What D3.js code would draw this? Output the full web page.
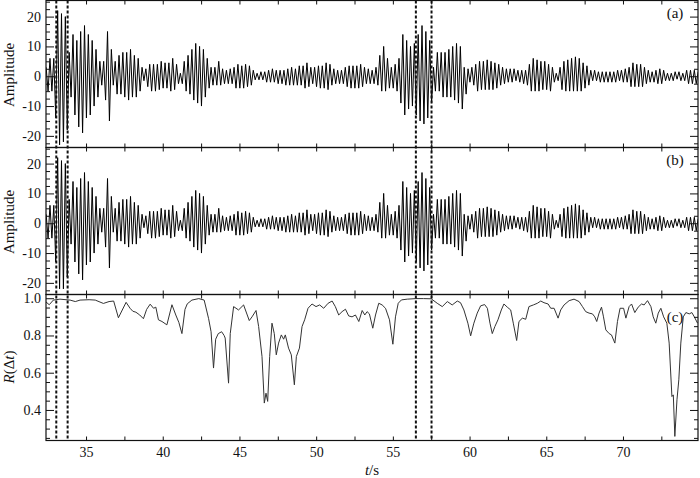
<!DOCTYPE html>
<html>
<head>
<meta charset="utf-8">
<script src="https://cdn.jsdelivr.net/npm/d3@7"></script>
<style>
  body { margin: 0; background: #fff; }
  svg text { font-family: 'Liberation Serif', Tinos, 'DejaVu Serif', serif; fill: #111; }
</style>
</head>
<body>
<svg></svg>
<script>
// waveform samples: one extreme per half cycle, starting at t0, spaced dt seconds
const t0 = 32.4;
const dt = 0.125;

const waveA = [
  3,-5,6,-5,6,-14,22,-23,
  21,-22,20,-18,8,-7,14,-13,
  12,-17,15,-19,17,-14,14,-13,
  12,-10,9,-7,5,-3,5,-8,
  15,-15,9,-3,5,-6,7,-6,
  8,-7,8,-8,9,-7,7,-7,
  6,-5,3,-1.5,2.5,-3.5,4,-5,
  4,-5,4,-4.5,5,-4,4.5,-4,
  4.5,-5,6,-4.5,4,-2.5,1,-2.5,
  5,-5,7,-6,9,-8,11,-9,
  10,-10,9,-7,6,-4,3,-3,
  3,-3,5,-3,2.5,-2.5,2,-2.5,
  2.5,-2.5,3,-4,4,-4,3.5,-4,
  4,-3.5,3.5,-3,2,-1.2,1,-1.2,
  1.5,-1.2,1.5,-2,2,-2,2.5,-2,
  2,-2.5,2,-2.5,2,-3,2.5,-3,
  3,-3,2.5,-3,3.5,-3,3.5,-4,
  4.5,-3.5,3,-2.5,3,-3.5,3.5,-4,
  3.5,-4,4.5,-4.5,4,-3,2.5,-2.5,
  2,-2.5,2,-2.5,3,-3.5,3.5,-4,
  3.5,-4,3.5,-4,4,-3.5,3,-2.5,
  2.5,-2.5,2,-2.5,3,-3,7,-5,
  10,-5,6,-4,3,-4,4,-5,
  6,-9,14,-13,12,-11,10,-10,
  11,-13,14,-15,17,-16,15,-14,
  12,-9,3,-5,8,-5,8,-7,
  8,-7,9,-7,10,-8,11,-9,
  10,-11,3,-6,2.5,-2,3,-3,
  4,-5,5,-4.5,5,-4.5,5.5,-4.5,
  5,-4.5,4.5,-4,4,-3,3,-2.5,
  2.5,-2,2.5,-2,2.5,-1.5,2,-2,
  2,-2.5,2,-3,4,-5,6,-5,
  5.5,-5,5,-4.5,5,-4.5,4,-5,
  3,-2,1,-1.5,3,-4.5,5,-5,
  5.5,-5,6,-5,6.5,-5,6,-5,
  4.5,-4,3.5,-3,2,-1.5,2,-1.5,
  1.5,-2,1.5,-2,1.5,-2,1.5,-2,
  1.5,-2,2,-1.5,2,-2,2.5,-2,
  3,-3.5,4.5,-3.5,4,-3.5,4,-3.5,
  3,-2.5,2,-2,1.5,-2,2,-2.5,
  2.5,-2.5,2,-1.5,1,-1.5,1,-1.5,
  1.5,-1,1.5,-1.5,1,-1.5,2,-2.5,
  2,-2.5,2,-2.5,1.5
];

const waveB = [
  3,-5,6,-5,6,-13,22,-22,
  21,-22,20,-18,8,-7,14,-13,
  12,-17,15,-19,17,-14,14,-13,
  12,-10,9,-7,5,-3,5,-8,
  15,-15,9,-3,5,-6,7,-6,
  8,-7,8,-8,9,-7,7,-7,
  6,-5,3,-1.5,2.5,-3.5,4,-5,
  4,-5,4,-4.5,5,-4,4.5,-4,
  4.5,-5,6,-4.5,4,-2.5,1,-2.5,
  5,-5,7,-6,9,-8,11,-9,
  10,-10,9,-7,6,-4,3,-3,
  3,-3,5,-3,2.5,-2.5,2,-2.5,
  2.5,-2.5,3,-4,4,-4,3.5,-4,
  4,-3.5,3.5,-3,2,-1.2,1,-1.2,
  1.5,-1.2,1.5,-2,2,-2,2.5,-2,
  2,-2.5,2,-2.5,2,-3,2.5,-3,
  3,-3,2.5,-3,3.5,-3,3.5,-4,
  4.5,-3.5,3,-2.5,3,-3.5,3.5,-4,
  3.5,-4,4.5,-4.5,4,-3,2.5,-2.5,
  2,-2.5,2,-2.5,3,-3.5,3.5,-4,
  3.5,-4,3.5,-4,4,-3.5,3,-2.5,
  2.5,-2.5,2,-2.5,3,-3,7,-5,
  10,-5,6,-4,3,-4,4,-5,
  6,-9,14,-13,12,-11,10,-10,
  11,-13,14,-15,17,-16,15,-14,
  12,-9,3,-5,8,-5,8,-7,
  8,-7,9,-7,10,-8,11,-9,
  10,-11,3,-6,2.5,-2,3,-3,
  4,-5,5,-4.5,5,-4.5,5.5,-4.5,
  5,-4.5,4.5,-4,4,-3,3,-2.5,
  2.5,-2,2.5,-2,2.5,-1.5,2,-2,
  2,-2.5,2,-3,4,-5,6,-5,
  5.5,-5,5,-4.5,5,-4.5,4,-5,
  3,-2,1,-1.5,3,-4.5,5,-5,
  5.5,-5,6,-5,6.5,-5,6,-5,
  4.5,-4,3.5,-3,2,-1.5,2,-1.5,
  1.5,-2,1.5,-2,1.5,-2,1.5,-2,
  1.5,-2,2,-1.5,2,-2,2.5,-2,
  3,-3.5,4.5,-3.5,4,-3.5,4,-3.5,
  3,-2.5,2,-2,1.5,-2,2,-2.5,
  2.5,-2.5,2,-1.5,1,-1.5,1,-1.5,
  1.5,-1,1.5,-1.5,1,-1.5,2,-2.5,
  2,-2.5,2,-2.5,1.5
];

// correlation coefficient R(dt)
const rTime = [
  32.39,32.6,32.87,33.3,33.96,34.3,34.61,35.2,35.6,36.13,
  36.5,36.8,37.11,37.61,37.87,38.05,38.25,38.5,38.74,38.95,
  39.18,39.4,39.55,39.72,39.95,40.27,40.6,40.85,41.05,41.25,
  41.45,41.6,41.9,42.35,42.7,42.99,43.15,43.31,43.45,43.62,
  43.84,44.0,44.07,44.29,44.4,44.62,44.94,45.27,45.64,45.82,
  46.08,46.25,46.47,46.62,46.73,46.84,46.97,47.12,47.27,47.4,
  47.55,47.73,47.88,47.99,48.2,48.38,48.58,48.71,48.91,49.08,
  49.25,49.47,49.73,49.99,50.23,50.49,50.78,51.04,51.25,51.47,
  51.69,51.91,52.12,52.34,52.56,52.78,53.0,53.17,53.32,53.47,
  53.69,53.87,54.08,54.3,54.52,54.78,55.0,55.17,55.35,55.56,
  55.94,56.5,57.0,57.5,57.89,58.22,58.55,58.87,59.2,59.41,
  59.63,59.89,60.07,60.28,60.5,60.72,60.98,61.16,61.33,61.48,
  61.65,61.85,62.07,62.24,62.46,62.68,62.85,63.07,63.22,63.44,
  63.66,63.87,64.16,64.42,64.64,64.85,65.12,65.29,65.51,65.77,
  65.94,66.16,66.49,66.81,67.14,67.36,67.57,67.79,68.01,68.16,
  68.29,68.44,68.6,68.73,68.88,69.1,69.25,69.47,69.64,69.81,
  70.04,70.19,70.4,70.56,70.77,70.99,71.21,71.38,71.6,71.82,
  71.97,72.14,72.3,72.47,72.65,72.86,73.01,73.19,73.28,73.38,
  73.52,73.64,73.77,73.93,74.1,74.32,74.49,74.65,74.86
];
const rValue = [
  0.98,0.965,0.99,0.995,0.99,0.982,0.99,0.992,0.99,0.972,
  0.982,0.985,0.895,0.978,0.946,0.93,0.925,0.91,0.89,0.94,
  0.968,0.946,0.952,0.884,0.875,0.857,0.965,0.91,0.87,0.81,
  0.94,0.97,0.99,0.998,0.99,0.89,0.82,0.625,0.78,0.81,
  0.82,0.8,0.786,0.544,0.81,0.955,0.937,0.964,0.88,0.90,
  0.934,0.848,0.687,0.437,0.49,0.446,0.687,0.866,0.81,0.696,
  0.759,0.803,0.78,0.803,0.732,0.696,0.535,0.687,0.732,0.848,
  0.884,0.946,0.969,0.955,0.964,0.946,0.973,0.985,0.955,0.91,
  0.928,0.941,0.905,0.90,0.91,0.875,0.934,0.91,0.928,0.916,
  0.839,0.91,0.973,0.964,0.946,0.884,0.753,0.90,0.973,0.991,
  0.995,0.998,0.998,0.997,0.973,0.955,0.982,0.964,0.985,0.976,
  0.937,0.866,0.798,0.866,0.92,0.959,0.966,0.946,0.866,0.81,
  0.848,0.884,0.937,0.969,0.952,0.937,0.866,0.773,0.875,0.893,
  0.887,0.955,0.964,0.973,0.985,0.976,0.969,0.946,0.946,0.893,
  0.937,0.964,0.987,0.995,0.982,0.955,0.928,0.92,0.916,0.90,
  0.875,0.92,0.952,0.90,0.83,0.81,0.803,0.759,0.875,0.946,
  0.946,0.893,0.955,0.969,0.923,0.952,0.969,0.964,0.987,0.955,
  0.90,0.866,0.92,0.946,0.90,0.866,0.759,0.472,0.481,0.258,
  0.455,0.562,0.759,0.90,0.923,0.916,0.923,0.90,0.866
];

const markers = [33.06, 33.8, 56.5, 57.52];
const xTickLabels = [35, 40, 45, 50, 55, 60, 65, 70];
const xMinor = [37.5, 42.5, 47.5, 52.5, 57.5, 62.5, 67.5, 72.5];
const ampTicks = [-20, -10, 0, 10, 20];
const ampMinor = [-22.5, -17.5, -15, -12.5, -7.5, -5, -2.5, 2.5, 5, 7.5, 12.5, 15, 17.5, 22.5, 25];
const rTicks = [0.4, 0.6, 0.8, 1.0];
const rMinor = [0.25, 0.3, 0.35, 0.45, 0.5, 0.55, 0.65, 0.7, 0.75, 0.85, 0.9, 0.95];

const width = 700;
const height = 478;
const left = 46;
const right = 698;
const serif = "'Liberation Serif', Tinos, 'DejaVu Serif', serif";

const svg = d3.select('svg')
  .attr('width', width)
  .attr('height', height);

const x = d3.scaleLinear().domain([32.39, 74.89]).range([left, right]);

const panels = [
  { top: 0.5, bottom: 147.5, domain: [-23.9, 25.4], major: ampTicks, minor: ampMinor,
    fmt: d => String(d), tag: '(a)', tagY: 18, data: waveA },
  { top: 147.5, bottom: 294.5, domain: [-23.9, 25.4], major: ampTicks, minor: ampMinor,
    fmt: d => String(d), tag: '(b)', tagY: 165, data: waveB },
  { top: 294.5, bottom: 440.5, domain: [0.236, 1.02], major: rTicks, minor: rMinor,
    fmt: d3.format('.1f'), tag: '(c)', tagY: 322, data: null }
];

const defs = svg.append('defs');

panels.forEach((p, i) => {
  let y = d3.scaleLinear().domain(p.domain).range([p.bottom, p.top]);
  let g = svg.append('g').classed('panel', true);

  defs.append('clipPath').attr('id', 'clip' + i)
    .append('rect')
      .attr('x', left).attr('y', p.top)
      .attr('width', right - left).attr('height', p.bottom - p.top);

  let line = d3.line().x(d => x(d[0])).y(d => y(d[1]));
  let pts = p.data
    ? p.data.map((v, k) => [t0 + k * dt, v])
    : d3.zip(rTime, rValue);

  g.append('path')
    .datum(pts)
    .attr('clip-path', `url(#clip${i})`)
    .attr('fill', 'none')
    .attr('stroke', p.data ? '#000' : '#333')
    .attr('stroke-width', 1)
    .attr('stroke-linejoin', 'round')
    .attr('d', line);

  // y axes, ticks pointing inward on both sides
  g.append('g').attr('transform', `translate(${left},0)`)
    .call(d3.axisLeft(y).tickValues(p.major).tickSize(-8).tickPadding(5).tickFormat(p.fmt));
  g.append('g').attr('transform', `translate(${left},0)`)
    .call(d3.axisLeft(y).tickValues(p.minor).tickSize(-4).tickFormat(''));
  g.append('g').attr('transform', `translate(${right},0)`)
    .call(d3.axisRight(y).tickValues(p.major).tickSize(-8).tickFormat(''));
  g.append('g').attr('transform', `translate(${right},0)`)
    .call(d3.axisRight(y).tickValues(p.minor).tickSize(-4).tickFormat(''));

  // x ticks on top and bottom of every panel
  let xt = xTickLabels.concat(xMinor);
  g.append('g').attr('transform', `translate(0,${p.top})`)
    .call(d3.axisTop(x).tickValues(xt).tickSize(-4).tickFormat(''));
  let xb = g.append('g').attr('transform', `translate(0,${p.bottom})`)
    .call(d3.axisBottom(x).tickValues(i === 2 ? xTickLabels : xt).tickSize(-4).tickPadding(7)
      .tickFormat(i === 2 ? d => d : ''));
  if (i === 2) {
    xb.append('g')
      .call(d3.axisBottom(x).tickValues(xMinor).tickSize(-4).tickFormat(''));
  }

  g.selectAll('.domain').remove();
  g.selectAll('g').attr('font-family', serif);
  g.selectAll('.tick line').attr('stroke', '#111').attr('stroke-width', 1);
  g.selectAll('.tick text')
    .attr('fill', '#111')
    .attr('font-family', serif)
    .attr('font-size', 14);

  g.append('rect')
    .attr('x', left).attr('y', p.top)
    .attr('width', right - left).attr('height', p.bottom - p.top)
    .attr('fill', 'none')
    .attr('stroke', '#111')
    .attr('stroke-width', 1.2);

  g.append('text')
    .attr('x', 675)
    .attr('y', p.tagY)
    .attr('text-anchor', 'middle')
    .attr('font-family', serif)
    .attr('font-size', 15)
    .text(p.tag);
});

// left axis titles
[75, 222].forEach(cy => {
  svg.append('text')
    .attr('transform', `translate(14,${cy}) rotate(-90)`)
    .attr('text-anchor', 'middle')
    .attr('font-family', serif)
    .attr('font-size', 15)
    .text('Amplitude');
});

let rLabel = svg.append('text')
  .attr('transform', 'translate(14,367) rotate(-90)')
  .attr('text-anchor', 'middle')
  .attr('font-family', serif)
  .attr('font-size', 15);
rLabel.append('tspan').attr('font-style', 'italic').text('R');
rLabel.append('tspan').text('(Δ');
rLabel.append('tspan').attr('font-style', 'italic').text('t');
rLabel.append('tspan').text(')');

let xLabel = svg.append('text')
  .attr('x', 372)
  .attr('y', 475)
  .attr('text-anchor', 'middle')
  .attr('font-family', serif)
  .attr('font-size', 15);
xLabel.append('tspan').attr('font-style', 'italic').text('t');
xLabel.append('tspan').text('/s');

// dashed time markers across all three panels
svg.selectAll('.marker')
  .data(markers)
  .enter()
  .append('line')
    .classed('marker', true)
    .attr('x1', d => x(d)).attr('x2', d => x(d))
    .attr('y1', 0.5).attr('y2', 440.5)
    .attr('stroke', '#111')
    .attr('stroke-width', 2)
    .attr('stroke-dasharray', '3,2');
</script>
</body>
</html>
